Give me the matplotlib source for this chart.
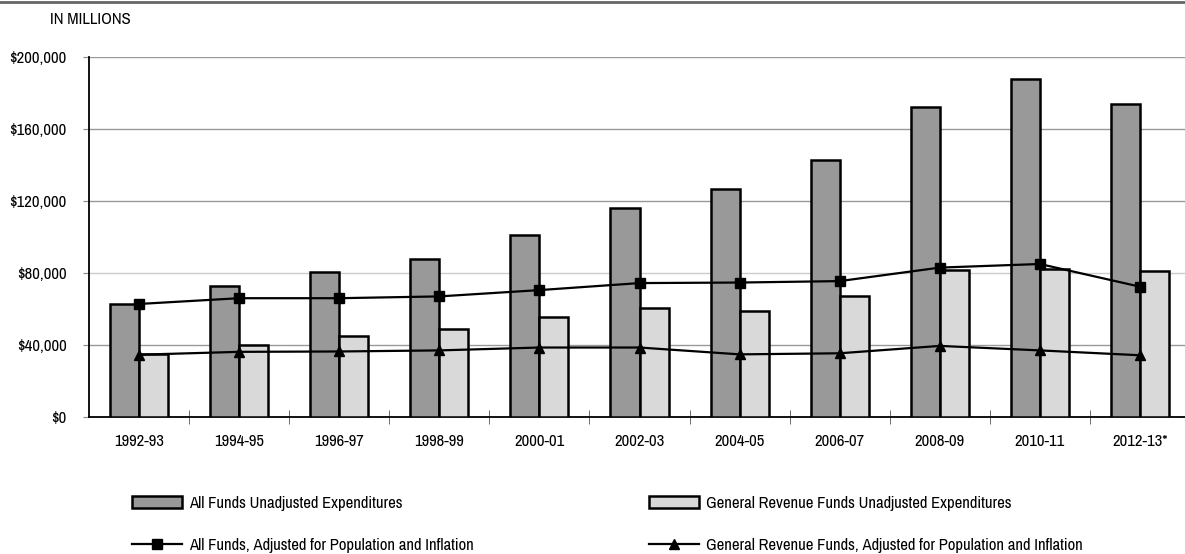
import matplotlib.pyplot as plt
from matplotlib import font_manager
import numpy as np

# biennium labels
years = ['1992-93', '1994-95', '1996-97', '1998-99', '2000-01', '2002-03',
         '2004-05', '2006-07', '2008-09', '2010-11', '2012-13*']

# values in millions
all_funds = [62800, 73000, 80300, 88000, 101000, 116000, 126500, 143000, 172300, 188000, 174000]
gr_funds = [34800, 39800, 44800, 49000, 55500, 60300, 59000, 67200, 81700, 82000, 81300]
all_adj = [62800, 66000, 66000, 67000, 70500, 74400, 74700, 75500, 83000, 85000, 72400]
gr_adj = [34600, 36200, 36400, 37000, 38600, 38600, 34800, 35400, 39500, 37000, 34300]

y_ticks = [0, 40000, 80000, 120000, 160000, 200000]
y_labels = ['$0', '$40,000', '$80,000', '$120,000', '$160,000', '$200,000']

# look for a narrow face, the original uses a condensed font
narrow = None
for f in font_manager.fontManager.ttflist:
    n = f.name.lower()
    if 'condensed' in n or 'narrow' in n:
        narrow = f.name
        break
if narrow:
    plt.rcParams['font.family'] = [narrow, 'DejaVu Sans']
    fs = 12
else:
    plt.rcParams['font.family'] = ['Roboto', 'DejaVu Sans']
    fs = 9.5

fig = plt.figure(figsize=(11.85, 5.54), dpi=100)
ax = fig.add_axes([89 / 1185, 1 - 417 / 554, 1 - 89 / 1185, 360 / 554])

x = np.arange(len(years))
w = 0.29

# gridlines, the $80,000 one is lighter in the original
for t in y_ticks[1:]:
    ax.axhline(t, color='#cccccc' if t == 80000 else '#999999', linewidth=1, zorder=0)

# bars
b1 = ax.bar(x - w / 2, all_funds, w, color='#999999', edgecolor='black', linewidth=1.8, zorder=3)
b2 = ax.bar(x + w / 2, gr_funds, w, color='#d9d9d9', edgecolor='black', linewidth=1.8, zorder=3)

# adjusted lines
l1, = ax.plot(x, all_adj, color='black', marker='s', markersize=7, linewidth=1.6, zorder=4)
l2, = ax.plot(x, gr_adj, color='black', marker='^', markersize=7, linewidth=1.6, zorder=4)

ax.set_xlim(-0.5, 10.45)
ax.set_ylim(0, 200000)
ax.set_yticks(y_ticks)
ax.set_yticklabels(y_labels, fontsize=fs, fontweight='bold')
ax.set_xticks(x)
ax.set_xticklabels(years, fontsize=fs)
ax.tick_params(axis='x', length=0, pad=12)
ax.set_xticks(x[:-1] + 0.5, minor=True)
ax.tick_params(axis='x', which='minor', length=10, direction='inout', color='#555555')
ax.tick_params(axis='y', length=4, color='#888888', pad=12)

for side in ['top', 'right']:
    ax.spines[side].set_visible(False)
ax.spines['left'].set_linewidth(1.3)
ax.spines['bottom'].set_linewidth(1.3)

# header rule and unit note
fig.add_artist(plt.Line2D([0, 1], [1 - 2 / 554, 1 - 2 / 554], color='#666666', linewidth=2))
fig.text(50 / 1185, 1 - 20 / 554, 'IN MILLIONS', fontsize=fs, fontweight='bold', va='center')

# legends, two columns placed by hand
leg_kw = dict(frameon=False, fontsize=fs, handlelength=3.0, handletextpad=0.4,
              labelspacing=1.6, loc='upper left')
fig.legend([b1, l1], ['All Funds Unadjusted Expenditures',
                      'All Funds, Adjusted for Population and Inflation'],
           bbox_to_anchor=(117 / 1185, 1 - 481 / 554), **leg_kw)
fig.legend([b2, l2], ['General Revenue Funds Unadjusted Expenditures',
                      'General Revenue Funds, Adjusted for Population and Inflation'],
           bbox_to_anchor=(634 / 1185, 1 - 481 / 554), **leg_kw)

plt.savefig('out.png', dpi=100)
